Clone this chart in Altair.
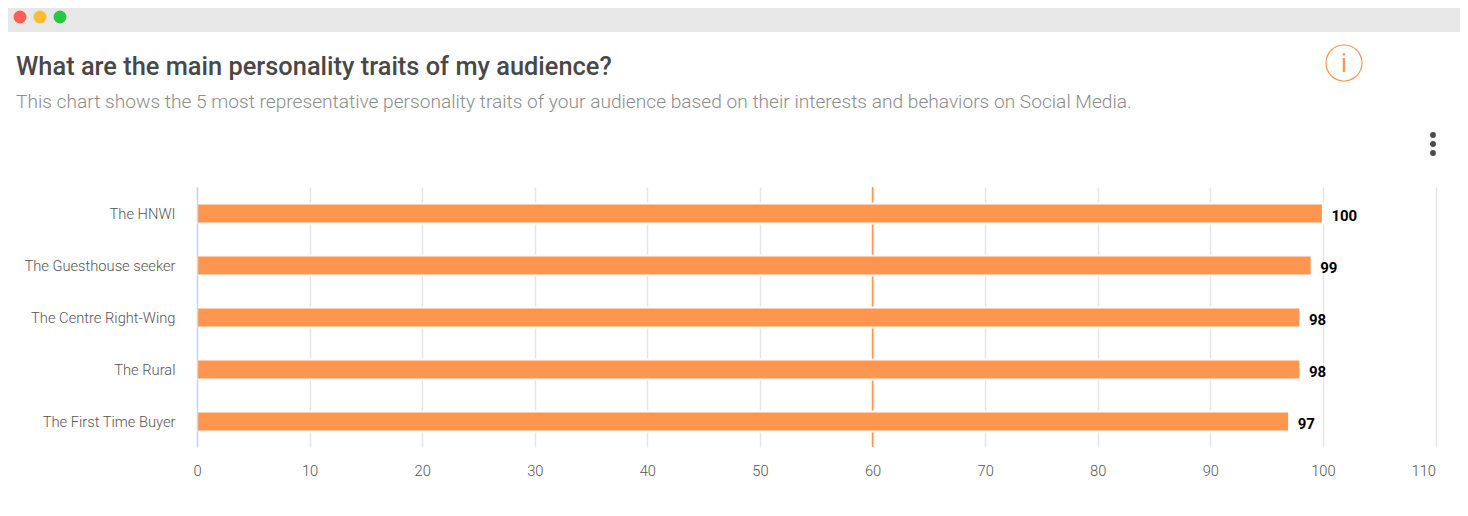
import altair as alt
import pandas as pd

categories = ["The HNWI", "The Guesthouse seeker", "The Centre Right-Wing", "The Rural", "The First Time Buyer"]
values = [100, 99, 98, 98, 97]
x_ticks = [0, 10, 20, 30, 40, 50, 60, 70, 80, 90, 100, 110]
threshold = [60]
title_text = "What are the main personality traits of my audience?"
subtitle_text = ("This chart shows the 5 most representative personality traits of your audience "
                 "based on their interests and behaviors on Social Media.")
FONT = "Roboto"
ORANGE = "#ff964f"
L, T = 189, 179  # plot origin inside the svg

df = pd.DataFrame({"trait": categories, "score": values})
x_scale = alt.Scale(domain=[0, 110], nice=False, zero=True)
y_enc = alt.Y("trait:N", sort=categories, scale=alt.Scale(paddingInner=0, paddingOuter=0),
              axis=alt.Axis(title=None, ticks=False, domain=True, domainColor="#ccd6eb", domainWidth=1.5,
                            labelColor="#555555", labelFont=FONT, labelFontSize=14.7, labelFontWeight=300,
                            labelPadding=22, grid=False, labelOffset=2, zindex=1))
x_enc = alt.X("score:Q", scale=x_scale,
              axis=alt.Axis(title=None, values=x_ticks, ticks=False, domain=False, grid=True, gridColor="#e6e6e6",
                            gridWidth=1.5, labelColor="#555555", labelFont=FONT, labelFontSize=14.7,
                            labelFontWeight=300, labelPadding=16, labelFlush=False, format="d",
                            labelAlign={"condition": {"test": "datum.value === 110", "value": "right"},
                                        "value": "center"}))

grid = alt.Chart(df).mark_bar(opacity=0).encode(x=x_enc, y=y_enc)
rule = alt.Chart(pd.DataFrame({"t": threshold})).mark_rule(color=ORANGE, strokeWidth=1.5).encode(
    x=alt.X("t:Q", scale=x_scale))
bars = alt.Chart(df).mark_bar(color=ORANGE, size=20, stroke="white", strokeWidth=2, yOffset=0.5).encode(
    x=x_enc, y=y_enc)
labels = alt.Chart(df).mark_text(align="left", baseline="middle", dx=8.5, dy=3, font=FONT, fontSize=15,
                                 fontWeight="bold", color="black").encode(
    x=alt.X("score:Q", scale=x_scale), y=alt.Y("trait:N", sort=categories), text="score:Q")


def blank():
    return alt.Chart(alt.Data(values=[{"a": 1}]))


def px_x(page_x):
    return alt.value(page_x - 8 - L)


def px_y(page_y):
    return alt.value(page_y - 8 - T)


decor = [
    blank().mark_rule(color="#e7e7e7", strokeWidth=24).encode(
        x=px_x(8), x2=px_x(1460), y=px_y(20)),
    blank().mark_text(text=title_text, font=FONT, fontSize=25.4, fontWeight=500, color="#484848",
                      align="left", baseline="alphabetic").encode(x=px_x(16), y=px_y(75)),
    blank().mark_text(text=subtitle_text, font=FONT, fontSize=19.15, fontWeight=300, color="#8c8c8c",
                      align="left", baseline="alphabetic").encode(x=px_x(16), y=px_y(108)),
]
for cx, col in [(20, "#ff5f57"), (40, "#ffbd2e"), (60, "#28c840")]:
    decor.append(blank().mark_point(filled=True, color=col, size=169, opacity=1).encode(x=px_x(cx), y=px_y(17)))
decor.append(blank().mark_point(filled=False, color=ORANGE, size=1296, strokeWidth=1.2, opacity=1).encode(
    x=px_x(1344), y=px_y(63)))
decor.append(blank().mark_text(text="i", font="Roboto", fontSize=25, color=ORANGE, fontWeight=400).encode(
    x=px_x(1344), y=px_y(64)))
for cy in [135, 144, 153]:
    decor.append(blank().mark_point(filled=True, color="#4a4a4a", size=34, opacity=1).encode(
        x=px_x(1433), y=px_y(cy)))

chart = alt.layer(grid, *decor, rule, bars, labels).properties(
    width=1238.5, height=260,
    padding={"left": L, "top": T, "right": 24.5, "bottom": 61},
    autosize=alt.AutoSizeParams(type="none"),
).configure_view(stroke=None)

chart.save("out.html", embed_options={"renderer": "svg", "actions": False})
